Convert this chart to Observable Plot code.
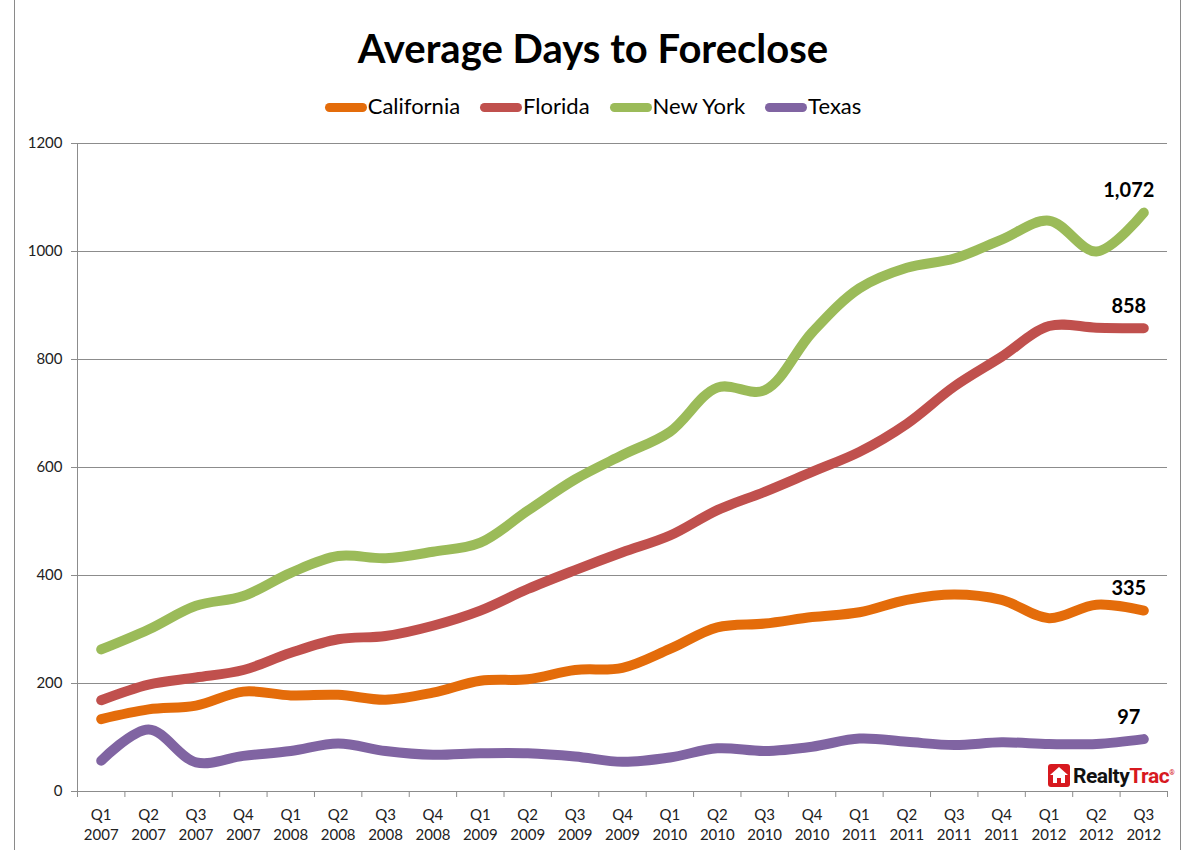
<!DOCTYPE html>
<html>
<head>
<meta charset="utf-8">
<script src="https://cdn.jsdelivr.net/npm/d3@7"></script>
<script src="https://cdn.jsdelivr.net/npm/@observablehq/plot@0.6"></script>
<style>
  html, body { margin: 0; padding: 0; background: #fff; }
  #wrap { position: relative; width: 1186px; height: 850px; overflow: hidden; font-family: Lato, "Open Sans", sans-serif; }
  #frame { position: absolute; left: 14px; top: -4px; width: 1167px; height: 870px; border-left: 1.5px solid #8a8a8a; border-right: 1.5px solid #8a8a8a; box-sizing: border-box; pointer-events: none; }
  #title { height: 54px; padding-top: 26px; line-height: 44px; text-align: center; font-size: 40px; font-weight: 700; color: #000; }
  #legend { height: 39px; padding-top: 6px; line-height: 40px; text-align: center; font-size: 22px; color: #000; }
  .item { display: inline-block; margin: 0 10px; }
  .sw { display: inline-block; width: 42px; height: 9px; border-radius: 5px; vertical-align: middle; margin-right: 1px; position: relative; top: -1px; }
  #logo { position: absolute; left: 1048px; top: 764px; height: 23px; display: flex; align-items: center; }
  #logo .txt { font-family: "Liberation Sans Narrow", "Roboto", sans-serif; font-weight: 700; font-size: 21px; letter-spacing: -0.5px; margin-left: 3px; }
</style>
</head>
<body>
<div id="wrap">
  <div id="title">Average Days to Foreclose</div>
  <div id="legend"></div>
  <div id="chart"></div>
  <div id="logo">
    <svg width="22" height="23" viewBox="0 0 22 23">
      <rect x="0" y="0" width="22" height="23" rx="3" fill="#d7191f"/>
      <path d="M11 3 L20 11 L17 11 L17 19 L13 19 L13 14 L9 14 L9 19 L5 19 L5 11 L2 11 Z" fill="#fff"/>
    </svg>
    <span class="txt"><span style="color:#111">Realty</span><span style="color:#d7191f">Trac</span><sup style="font-size:7px;color:#d7191f">®</sup></span>
  </div>
  <div id="frame"></div>
</div>
<script>
const quarters = ["Q1","Q2","Q3","Q4","Q1","Q2","Q3","Q4","Q1","Q2","Q3","Q4","Q1","Q2","Q3","Q4","Q1","Q2","Q3","Q4","Q1","Q2","Q3"];
const years = ["2007","2007","2007","2007","2008","2008","2008","2008","2009","2009","2009","2009","2010","2010","2010","2010","2011","2011","2011","2011","2012","2012","2012"];

const states = ["California", "Florida", "New York", "Texas"];
const colors = ["#e46c0a", "#c0504d", "#9bbb59", "#8064a2"];

const california = [134,152,159,185,178,179,170,183,205,208,225,229,264,304,311,323,332,355,365,355,321,346,335];
const florida    = [169,198,211,225,257,282,288,307,335,375,410,443,474,521,555,592,629,681,750,805,862,859,858];
const newYork    = [263,300,344,362,405,436,432,444,461,520,578,623,666,748,743,850,932,970,987,1022,1057,1000,1072];
const texas      = [57,115,54,66,75,89,75,68,71,71,65,55,63,80,75,83,98,92,86,91,88,88,97];

const yTicks = [0, 200, 400, 600, 800, 1000, 1200];

const seriesValues = [california, florida, newYork, texas];
const rows = [];
states.forEach((s, k) => seriesValues[k].forEach((v, i) => rows.push({state: s, i, value: v})));
const lastRows = states.map((s, k) => ({state: s, i: quarters.length - 1, value: seriesValues[k][quarters.length - 1]}));

// legend
const legend = document.getElementById("legend");
states.forEach((s, k) => {
  const it = document.createElement("span");
  it.className = "item";
  it.innerHTML = `<span class="sw" style="background:${colors[k]}"></span>${s}`;
  legend.appendChild(it);
});

const n = quarters.length;
const xDomain = [-0.5, n - 0.5];
const bandEdges = d3.range(-0.5, n, 1);

const chart = Plot.plot({
  width: 1186,
  height: 725,
  marginLeft: 77,
  marginRight: 19,
  marginTop: 18,
  marginBottom: 59,
  style: { fontFamily: "Lato, 'Open Sans', sans-serif", fontSize: "15px", color: "#222", background: "#fff", overflow: "visible" },
  x: { type: "linear", domain: xDomain, axis: null },
  y: { domain: [0, 1200], axis: null },
  color: { domain: states, range: colors },
  marks: [
    Plot.gridY(yTicks, { stroke: "#8c8c8c", strokeOpacity: 1, strokeWidth: 1 }),
    Plot.ruleX([xDomain[0]], { stroke: "#8c8c8c", strokeWidth: 1 }),
    Plot.ruleY([0], { stroke: "#8c8c8c", strokeWidth: 1 }),
    Plot.axisY({ ticks: yTicks, tickSize: 6, tickPadding: 9, tickFormat: d3.format("d"), stroke: "#8c8c8c", label: null, fill: "#222" }),
    Plot.axisX({ ticks: bandEdges, tickSize: 6, tickFormat: () => "", stroke: "#8c8c8c", label: null }),
    Plot.axisX({ ticks: d3.range(n), tickSize: 0, tickPadding: 14, lineHeight: 1.35, tickFormat: i => quarters[i] + "\n" + years[i], label: null, fill: "#222" }),
    Plot.line(rows, { x: "i", y: "value", z: "state", stroke: "state", strokeWidth: 10, strokeLinecap: "round", strokeLinejoin: "round", curve: "catmull-rom" }),
    Plot.text(lastRows, { x: "i", y: "value", text: d => d3.format(",")(d.value), dx: -15, dy: -22, fontSize: 20, fontWeight: "bold", fill: "#000" })
  ]
});
document.getElementById("chart").appendChild(chart);
</script>
</body>
</html>
